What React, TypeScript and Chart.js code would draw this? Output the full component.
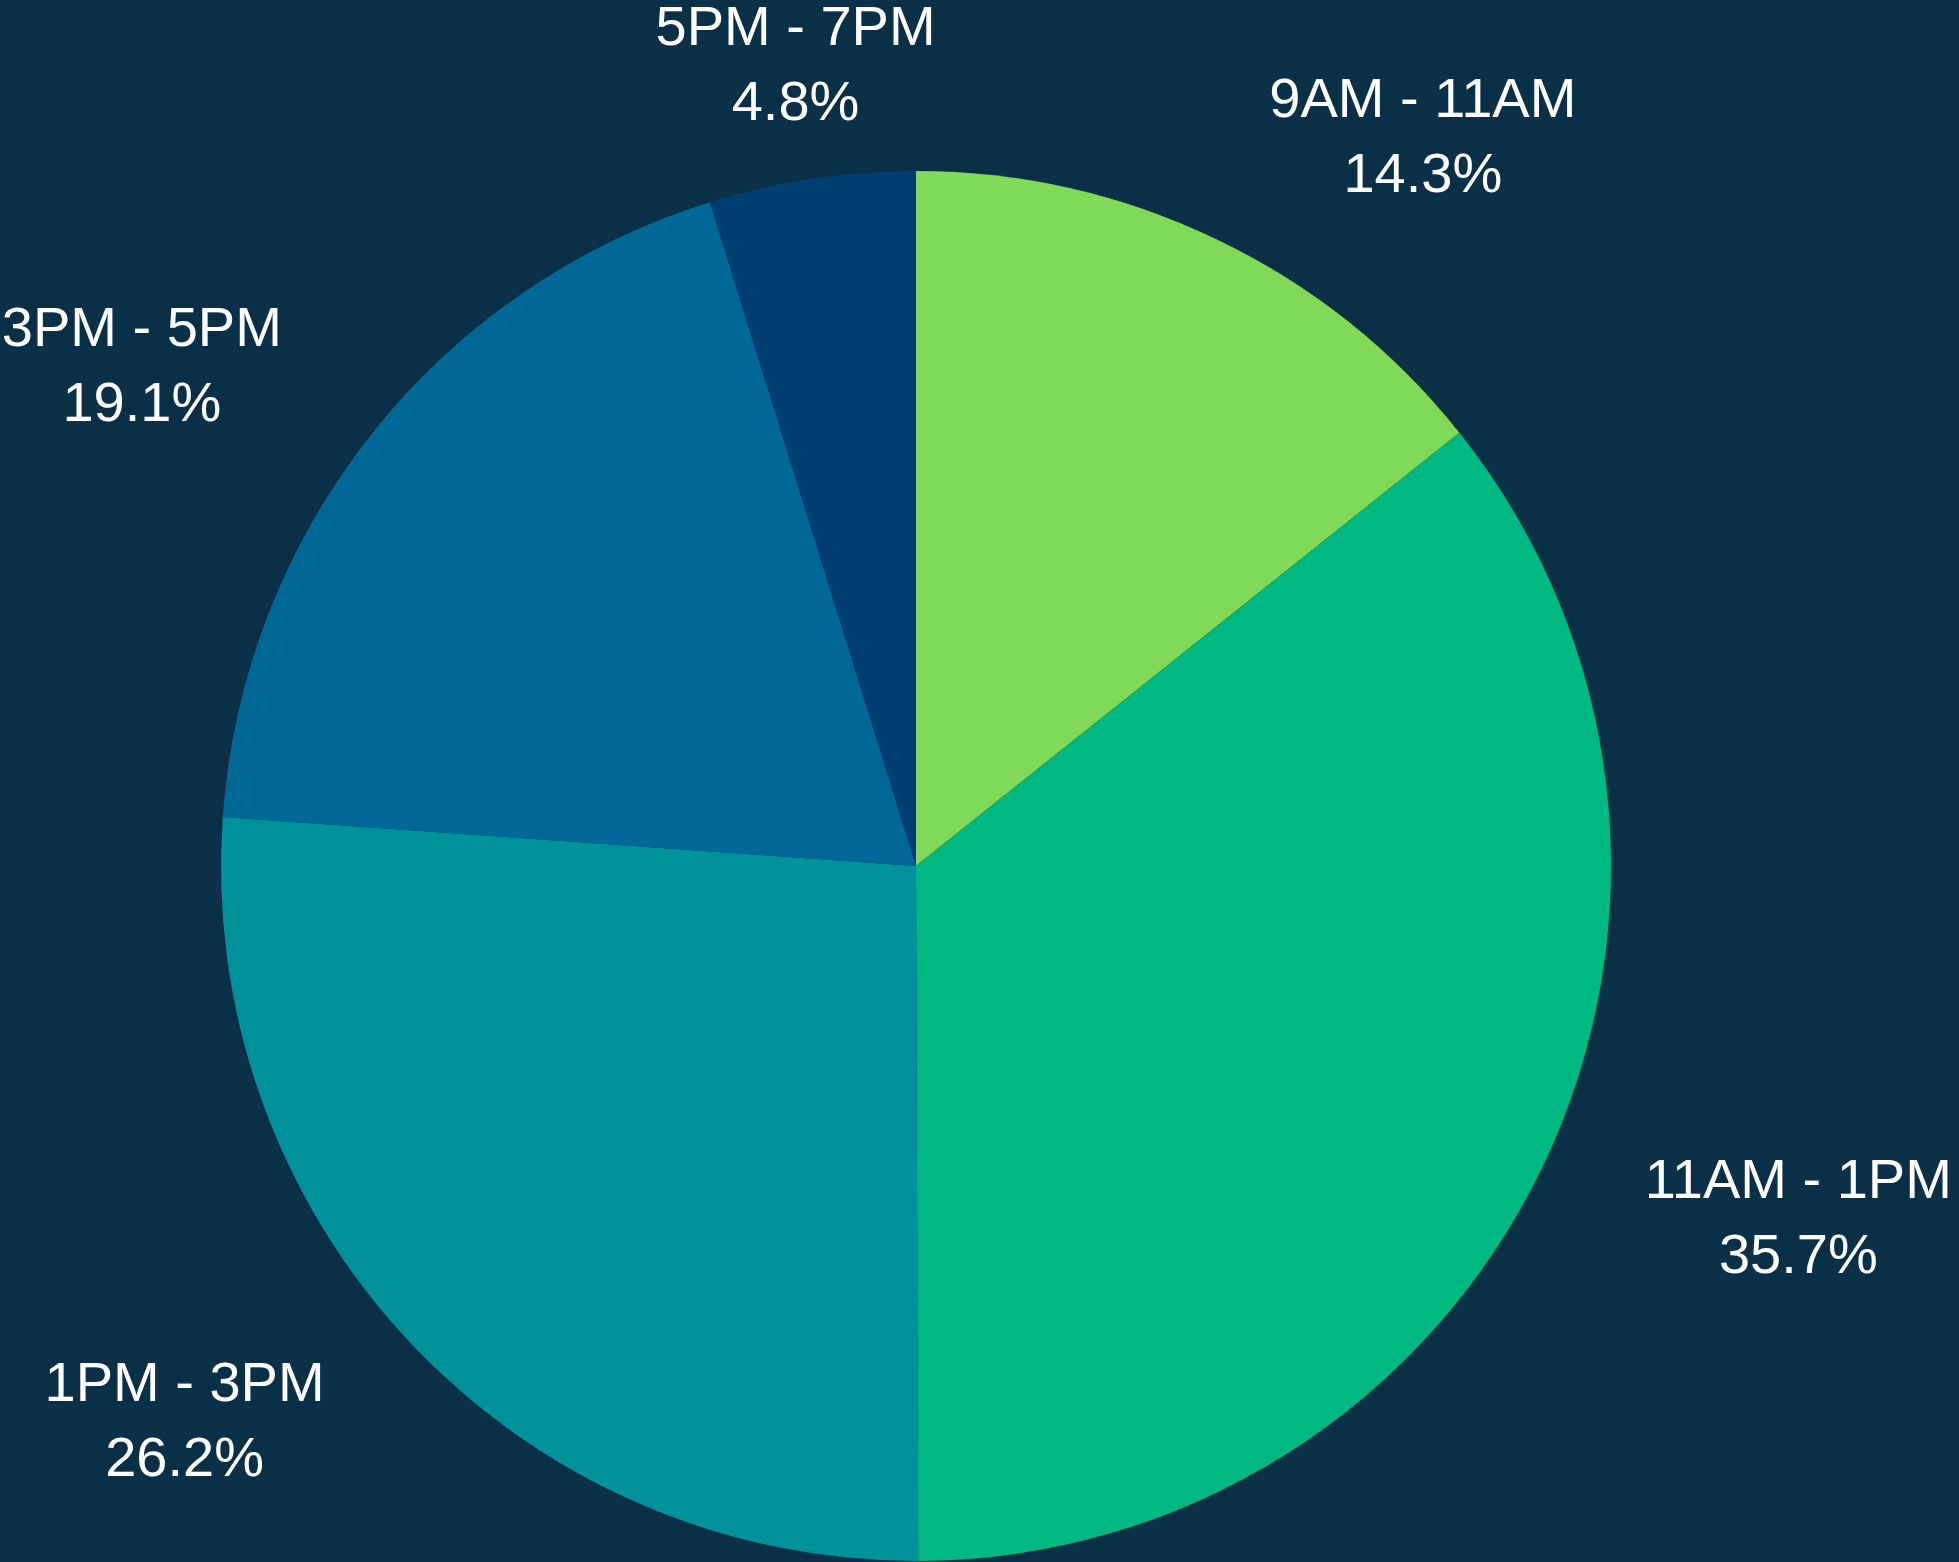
import React, { useEffect, useRef } from "react";
import { Chart, registerables } from "chart.js";

Chart.register(...registerables);

const categories = ["9AM - 11AM", "11AM - 1PM", "1PM - 3PM", "3PM - 5PM", "5PM - 7PM"];
const shares = [14.3, 35.7, 26.2, 19.1, 4.8];
const sliceColors = ["#80d957", "#00b882", "#00929a", "#006896", "#003e72"];

const BG = "#0a3048";
const FONT_SIZE = 56;
const FONT = `${FONT_SIZE}px "Liberation Sans", Arial, sans-serif`;
const LINE_GAP = 75;

const outsideLabels = {
  id: "outsideLabels",
  afterDatasetsDraw(chart: any) {
    const ctx = chart.ctx as CanvasRenderingContext2D;
    const meta = chart.getDatasetMeta(0);
    const data = chart.data.datasets[0].data as number[];
    const total = data.reduce((a, b) => a + b, 0);
    ctx.save();
    ctx.font = FONT;
    ctx.fillStyle = "#ffffff";
    ctx.textAlign = "center";
    ctx.textBaseline = "alphabetic";
    const capH = 0.716 * FONT_SIZE;
    meta.data.forEach((arc: any, i: number) => {
      const p = arc.getProps(["x", "y", "startAngle", "endAngle", "outerRadius"], true);
      const mid = (p.startAngle + p.endAngle) / 2;
      const ux = Math.cos(mid);
      const uy = Math.sin(mid);
      const dist = p.outerRadius * 1.155;
      const ax = p.x + ux * dist;
      const ay = p.y + uy * dist;
      const l1 = String(chart.data.labels[i]);
      const l2 = ((data[i] / total) * 100).toFixed(1) + "%";
      const w = Math.max(ctx.measureText(l1).width, ctx.measureText(l2).width);
      const h = 20;
      let dx = w / 2;
      let dy = h / 2;
      if (ux < 0) dx = -dx;
      if (uy < 0) dy = -dy;
      let ox: number;
      let oy: number;
      if (Math.abs(ux) < 0.25 * Math.abs(uy)) {
        ox = 0;
        oy = dy;
      } else {
        ox = dx + (Math.abs(dy) * (dx > 0 ? 1 : -1)) / 2;
        oy = dy / (1 + (ux * ux) / (uy * uy));
      }
      const cx = ax + ox;
      const cy = ay + oy;
      ctx.fillText(l1, cx, cy - LINE_GAP / 2 + capH / 2);
      ctx.fillText(l2, cx, cy + LINE_GAP / 2 + capH / 2);
    });
    ctx.restore();
  },
};

export default function App() {
  const ref = useRef<HTMLCanvasElement | null>(null);
  useEffect(() => {
    if (!ref.current) return;
    const chart = new Chart(ref.current, {
      type: "pie",
      data: {
        labels: categories,
        datasets: [
          {
            data: shares,
            backgroundColor: sliceColors,
            borderWidth: 0,
            hoverOffset: 0,
            offset: 0,
          },
        ],
      },
      options: {
        animation: false,
        responsive: false,
        devicePixelRatio: 1,
        layout: { padding: { left: 221, right: 348, top: 171, bottom: 1 } },
        plugins: {
          legend: { display: false },
          tooltip: { enabled: false },
        },
      },
      plugins: [outsideLabels],
    });
    return () => chart.destroy();
  }, []);
  return (
    <div
      style={{
        position: "fixed",
        left: 0,
        top: 0,
        width: 1959,
        height: 1562,
        background: BG,
      }}
    >
      <canvas ref={ref} width={1959} height={1562} style={{ display: "block" }} />
    </div>
  );
}
